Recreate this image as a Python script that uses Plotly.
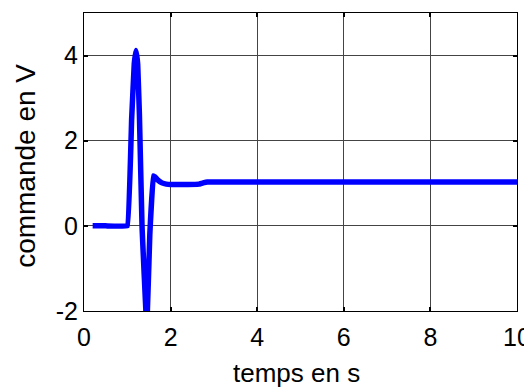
import plotly.graph_objects as go

t = [0.2, 0.5, 1.0, 1.1, 1.16, 1.2, 1.24, 1.28, 1.34, 1.45, 1.52, 1.6, 1.65, 1.7, 1.8, 1.9, 2.0, 2.4, 2.65, 2.75, 2.85, 3.2, 5.0, 7.0, 10.0]
u = [0.0, 0.0, 0.0, 2.5, 3.8, 4.12, 3.8, 2.6, 0.0, -2.4, -0.2, 1.17, 1.14, 1.08, 1.01, 0.98, 0.97, 0.97, 0.98, 1.01, 1.03, 1.03, 1.03, 1.03, 1.03]

x_ticks = [0, 2, 4, 6, 8, 10]
y_ticks = [-2, 0, 2, 4]

FONT = "Liberation Sans, Arial"

fig = go.Figure()
fig.add_trace(go.Scatter(x=t, y=u, mode="lines",
                         line=dict(color="#0000ff", width=5.5, shape="spline", smoothing=0.15),
                         showlegend=False))

axis_common = dict(showgrid=True, gridcolor="#444444", gridwidth=1,
                   showline=True, linecolor="black", linewidth=1, mirror="ticks",
                   ticks="inside", ticklen=4, tickcolor="black", tickwidth=2,
                   zeroline=False, automargin=False,
                   tickfont=dict(family=FONT, size=25, color="black"))

fig.update_xaxes(range=[0, 10], tickvals=x_ticks, ticktext=[str(v) for v in x_ticks],
                 ticklabelstandoff=4, **axis_common)
fig.update_yaxes(range=[-2, 5], tickvals=y_ticks, ticktext=[str(v) for v in y_ticks], **axis_common)

fig.add_annotation(text="temps en s", xref="paper", yref="paper", x=0.49, y=-0.208,
                   xanchor="center", yanchor="middle", showarrow=False,
                   font=dict(family=FONT, size=26, color="black"))
fig.add_annotation(text="commande en V", xref="paper", yref="paper", x=-0.134, y=0.487,
                   xanchor="center", yanchor="middle", showarrow=False, textangle=-90,
                   font=dict(family=FONT, size=28, color="black"))

# the page body adds an 8px margin, so the figure is sized to fit the 532x389 window
fig.update_layout(width=524, height=381, margin=dict(l=76, r=15, t=5, b=78),
                  plot_bgcolor="white", paper_bgcolor="white")

fig.write_html("out.html")
